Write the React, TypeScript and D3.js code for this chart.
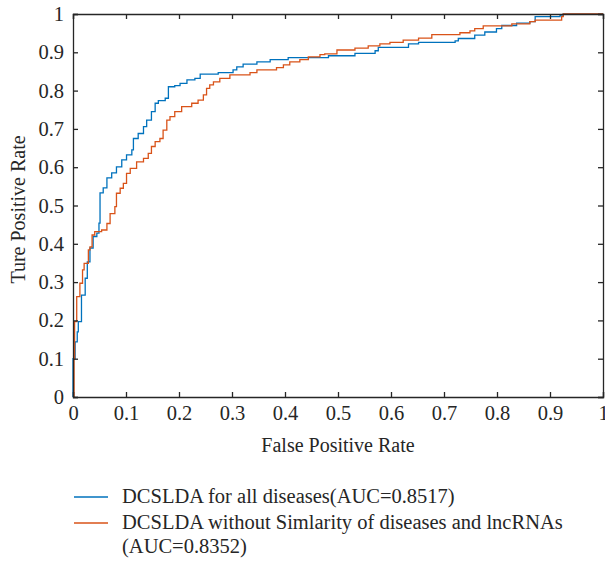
import React, { useEffect, useRef } from "react";
import * as d3 from "d3";

// ROC curve points: [false positive rate, true positive rate]
const allDiseasesFpr = [0, 0, 0.004, 0.008, 0.01, 0.016, 0.023, 0.027, 0.032, 0.038, 0.045, 0.049, 0.051, 0.051, 0.057, 0.064, 0.073, 0.082, 0.092, 0.101, 0.111, 0.114, 0.123, 0.133, 0.139, 0.148, 0.155, 0.161, 0.174, 0.18, 0.192, 0.202, 0.215, 0.23, 0.24, 0.274, 0.302, 0.309, 0.321, 0.347, 0.372, 0.406, 0.482, 0.532, 0.57, 0.576, 0.633, 0.652, 0.721, 0.727, 0.758, 0.777, 0.799, 0.809, 0.837, 0.862, 0.872, 0.919, 0.925, 1];
const allDiseasesTpr = [0, 0.1, 0.144, 0.17, 0.197, 0.266, 0.31, 0.353, 0.389, 0.419, 0.428, 0.454, 0.514, 0.533, 0.546, 0.572, 0.585, 0.601, 0.619, 0.632, 0.645, 0.675, 0.688, 0.706, 0.723, 0.745, 0.767, 0.774, 0.78, 0.81, 0.813, 0.819, 0.828, 0.832, 0.843, 0.847, 0.854, 0.862, 0.869, 0.875, 0.881, 0.886, 0.891, 0.897, 0.904, 0.913, 0.922, 0.926, 0.93, 0.936, 0.945, 0.953, 0.962, 0.97, 0.976, 0.98, 0.993, 0.997, 1, 1];

const noSimFpr = [0, 0.002, 0.003, 0.007, 0.013, 0.018, 0.021, 0.029, 0.032, 0.036, 0.041, 0.054, 0.064, 0.07, 0.079, 0.082, 0.089, 0.095, 0.101, 0.108, 0.12, 0.133, 0.142, 0.148, 0.155, 0.164, 0.17, 0.177, 0.183, 0.192, 0.205, 0.224, 0.236, 0.246, 0.252, 0.258, 0.265, 0.277, 0.296, 0.334, 0.347, 0.384, 0.397, 0.409, 0.428, 0.444, 0.466, 0.475, 0.498, 0.532, 0.557, 0.579, 0.598, 0.623, 0.652, 0.677, 0.683, 0.73, 0.749, 0.758, 0.774, 0.828, 0.862, 0.872, 0.922, 0.925, 1];
const noSimTpr = [0, 0.1, 0.197, 0.262, 0.297, 0.332, 0.349, 0.384, 0.392, 0.423, 0.432, 0.436, 0.453, 0.479, 0.497, 0.532, 0.545, 0.558, 0.584, 0.597, 0.614, 0.623, 0.636, 0.654, 0.667, 0.675, 0.697, 0.723, 0.732, 0.745, 0.758, 0.767, 0.775, 0.789, 0.806, 0.815, 0.823, 0.832, 0.841, 0.847, 0.854, 0.86, 0.867, 0.875, 0.881, 0.888, 0.894, 0.896, 0.906, 0.911, 0.917, 0.922, 0.926, 0.932, 0.937, 0.946, 0.946, 0.951, 0.956, 0.962, 0.969, 0.974, 0.98, 0.984, 0.993, 1, 1];

const tickValues = [0, 0.1, 0.2, 0.3, 0.4, 0.5, 0.6, 0.7, 0.8, 0.9, 1];

const seriesNames = [
  "DCSLDA for all diseases(AUC=0.8517)",
  "DCSLDA without Simlarity of diseases and lncRNAs",
];
const seriesNameCont = "(AUC=0.8352)";
const colors = ["#0072BD", "#D95319"];

export default function App() {
  const ref = useRef<SVGSVGElement>(null);

  useEffect(() => {
    const svg = d3.select(ref.current);
    svg.selectAll("*").remove();

    const left = 73, right = 603, top = 14, bottom = 397;
    const x = d3.scaleLinear().domain([0, 1]).range([left, right]);
    const y = d3.scaleLinear().domain([0, 1]).range([bottom, top]);
    const font = "'Liberation Serif', 'Times New Roman', serif";
    const axisColor = "#262626";
    const fs = 20.5;

    const series = [
      allDiseasesFpr.map((f, i) => [f, allDiseasesTpr[i]]),
      noSimFpr.map((f, i) => [f, noSimTpr[i]]),
    ];

    const line = d3
      .line<number[]>()
      .x(d => x(d[0]))
      .y(d => y(d[1]))
      .curve(d3.curveStepAfter);

    svg
      .append("g")
      .selectAll("path")
      .data(series)
      .join("path")
      .attr("fill", "none")
      .attr("stroke", (d, i) => colors[i])
      .attr("stroke-width", 1.3)
      .attr("d", line);

    // box axes with inward ticks on all four sides
    const tick = 5;
    const gAxes = svg.append("g");

    const bottomAxis = d3.axisBottom(x).tickValues(tickValues).tickSize(-tick).tickPadding(8).tickFormat(d => String(d));
    const leftAxis = d3.axisLeft(y).tickValues(tickValues).tickSize(-tick).tickPadding(9).tickFormat(d => String(d));
    const topAxis = d3.axisTop(x).tickValues(tickValues).tickSize(-tick).tickFormat(() => "");
    const rightAxis = d3.axisRight(y).tickValues(tickValues).tickSize(-tick).tickFormat(() => "");

    const styleAxis = (g: any) => {
      g.attr("font-family", font).attr("font-size", fs);
      g.select(".domain").attr("stroke", axisColor).attr("stroke-width", 1.3);
      g.selectAll(".tick line").attr("stroke", axisColor).attr("stroke-width", 1.3);
      g.selectAll(".tick text").attr("fill", "#262626");
    };

    gAxes.append("g").attr("transform", `translate(0,${bottom})`).call(bottomAxis).call(styleAxis);
    gAxes.append("g").attr("transform", `translate(${left},0)`).call(leftAxis).call(styleAxis);
    gAxes.append("g").attr("transform", `translate(0,${top})`).call(topAxis).call(styleAxis);
    gAxes.append("g").attr("transform", `translate(${right},0)`).call(rightAxis).call(styleAxis);

    // axis titles
    svg
      .append("text")
      .attr("x", (left + right) / 2)
      .attr("y", 452)
      .attr("text-anchor", "middle")
      .attr("font-family", font)
      .attr("font-size", 20)
      .attr("fill", "#262626")
      .text("False Positive Rate");

    svg
      .append("text")
      .attr("transform", `translate(25,${(top + bottom) / 2 + 4}) rotate(-90)`)
      .attr("text-anchor", "middle")
      .attr("font-family", font)
      .attr("font-size", 20)
      .attr("fill", "#262626")
      .text("Ture Positive Rate");

    // legend
    const lg = svg.append("g").attr("font-family", font).attr("font-size", fs).attr("fill", "#262626");
    const rows = [497, 523];
    seriesNames.forEach((name, i) => {
      lg.append("line")
        .attr("x1", 74)
        .attr("x2", 108)
        .attr("y1", rows[i])
        .attr("y2", rows[i])
        .attr("stroke", colors[i])
        .attr("stroke-width", 1.3);
      lg.append("text").attr("x", 122).attr("y", rows[i] + 6).text(name);
    });
    lg.append("text").attr("x", 122).attr("y", 553).text(seriesNameCont);
  }, []);

  return (
    <div style={{ position: "absolute", left: 0, top: 0 }}>
      <svg ref={ref} width={605} height={561} style={{ display: "block", background: "#fff" }} />
    </div>
  );
}
